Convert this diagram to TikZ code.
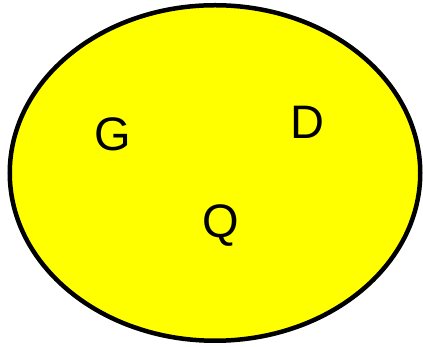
\documentclass[tikz,border=0pt]{standalone}
\usepackage{fontspec}
\usetikzlibrary{shapes.geometric}
\setmainfont{Liberation Sans}
\begin{document}
\begin{tikzpicture}[x=1pt,y=1pt,
  blob/.style={draw=black,line width=4.5pt,fill={rgb,255:red,255;green,255;blue,0}},
  letter/.style={font=\fontsize{47}{50}\selectfont,anchor=base,inner sep=0pt}]
\useasboundingbox (0,0) rectangle (423,347);
\node[blob,ellipse,minimum width=410.5pt,minimum height=335.5pt,inner sep=0pt] (e) at (215,174) {};
\node[letter] (g) at (113,196) {G};
\node[letter] (d) at (307,208) {D};
\node[letter] (q) at (221,109) {Q};
\end{tikzpicture}
\end{document}
